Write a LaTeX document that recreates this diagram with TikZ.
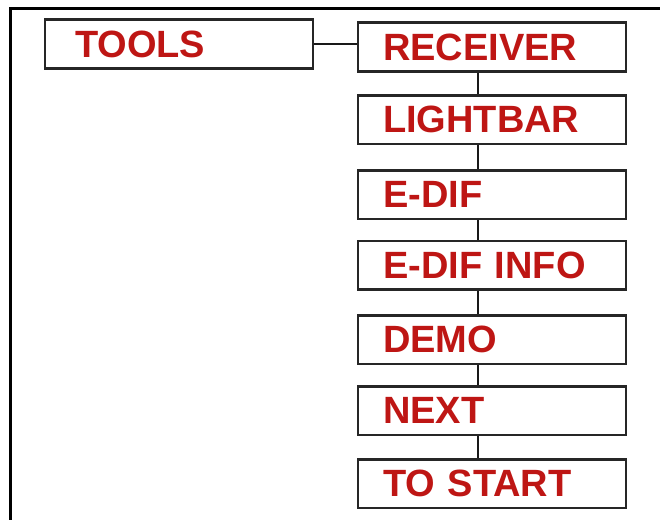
\documentclass[tikz,border=0pt]{standalone}
\usepackage{fontspec}
\setmainfont{Liberation Sans}
\definecolor{menured}{RGB}{190,22,20}
\begin{document}
\begin{tikzpicture}[x=1pt,y=-1pt,
  menubox/.style={draw=black!85, line width=2.5pt, rectangle, minimum width=268pt,
    minimum height=48.5pt, inner xsep=25pt, inner ysep=0pt, text width=218pt, align=left,
    text=menured, font=\fontsize{38}{42}\selectfont\bfseries},
  link/.style={draw=black!90, line width=2pt}]
\useasboundingbox (0,0) rectangle (660,519);
\draw[line width=3pt] (10.5,530) -- (10.5,8.5) -- (670,8.5);
\node[menubox, inner xsep=30pt, text width=208pt] (tools) at (179,44) {TOOLS};
\node[menubox] (receiver) at (492,47) {RECEIVER};
\node[menubox] (lightbar) at (492,119.5) {LIGHTBAR};
\node[menubox] (edif) at (492,194.5) {E-DIF};
\node[menubox] (edifinfo) at (492,265) {E-DIF INFO};
\node[menubox] (demo) at (492,339.5) {DEMO};
\node[menubox] (next) at (492,410.5) {NEXT};
\node[menubox] (tostart) at (492,483.5) {TO START};
\draw[link] (tools.east) -- (tools.east -| receiver.west);
\foreach \a/\b in {receiver/lightbar, lightbar/edif, edif/edifinfo, edifinfo/demo, demo/next, next/tostart}
  \draw[link] ([xshift=-14pt]\a.south) -- ([xshift=-14pt]\b.north);
\end{tikzpicture}
\end{document}
